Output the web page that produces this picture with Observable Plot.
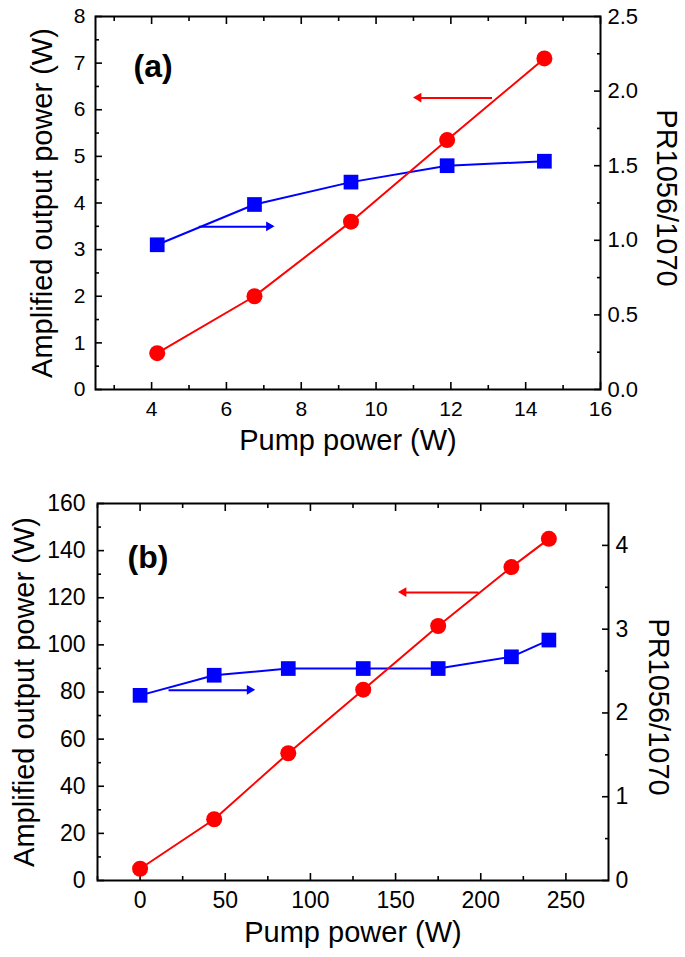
<!DOCTYPE html>
<html><head><meta charset="utf-8">
<script src="https://cdn.jsdelivr.net/npm/d3@7"></script>
<script src="https://cdn.jsdelivr.net/npm/@observablehq/plot@0.6"></script>
<style>body{margin:0;background:#fff} svg{display:block}</style>
</head><body><div id="chart"></div>
<script>
// ---------- Panel (a) data ----------
const pumpA   = [4.15, 6.75, 9.33, 11.9, 14.5];
const outputA = [0.78, 2.0, 3.6, 5.35, 7.1];          // Amplified output power (W), left axis
const ratioA  = [0.97, 1.24, 1.39, 1.50, 1.53];        // PR1056/1070, right axis
const xTicksA = [4, 6, 8, 10, 12, 14, 16];
const yTicksA = [0, 1, 2, 3, 4, 5, 6, 7, 8];
const rTicksA = [0, 0.5, 1.0, 1.5, 2.0, 2.5];
// arrows: [x1, x2, y] ; red y in left units, blue y in right units
const redArrowA  = [13.1, 11.15, 6.25];
const blueArrowA = [5.26, 7.15, 1.09];

// ---------- Panel (b) data ----------
const pumpB   = [0, 43.5, 87, 131, 175, 218, 240];
const outputB = [5, 26, 54, 81, 108, 133, 145];
const ratioB  = [2.21, 2.45, 2.53, 2.53, 2.53, 2.67, 2.87];
const xTicksB = [0, 50, 100, 150, 200, 250];
const yTicksB = [0, 20, 40, 60, 80, 100, 120, 140, 160];
const rTicksB = [0, 1, 2, 3, 4];
const redArrowB  = [198.7, 155, 122.2];
const blueArrowB = [16.7, 64.6, 2.27];

const RED = "#ff0000", BLUE = "#0000ff";
const FONT = '"Liberation Sans", Arial, Helvetica, sans-serif';

function panel(o) {
  const k = o.yDomain[1] / o.rDomain[1];
  const red = o.pump.map((x, i) => ({x, y: o.output[i]}));
  const blue = o.pump.map((x, i) => ({x, r: o.ratio[i]}));
  const arrows = [
    {x1: o.redArrow[0], x2: o.redArrow[1], y: o.redArrow[2], c: RED, rot: -90, dx: 5.5},
    {x1: o.blueArrow[0], x2: o.blueArrow[1], y: o.blueArrow[2] * k, c: BLUE, rot: 90, dx: -5.5}
  ];
  const blank = () => "";
  return Plot.plot({
    width: 685, height: o.height,
    marginTop: o.mt, marginBottom: o.mb, marginLeft: o.ml, marginRight: o.mr,
    style: {fontFamily: FONT, fontSize: o.fs + "px", color: "black", background: "white"},
    x: {domain: o.xDomain, axis: null},
    y: {domain: o.yDomain, axis: null},
    marks: [
      Plot.axisX(o.xTicks, {anchor: "bottom", tickSize: -7, tickPadding: 7 + o.xPad, strokeWidth: 1.6, label: null}),
      Plot.axisX(o.xMinor, {anchor: "bottom", tickSize: -4, tickFormat: blank, strokeWidth: 1.6, label: null}),
      Plot.axisX(o.xTicks, {anchor: "top", tickSize: -7, tickFormat: blank, strokeWidth: 1.6, label: null}),
      Plot.axisX(o.xMinor, {anchor: "top", tickSize: -4, tickFormat: blank, strokeWidth: 1.6, label: null}),
      Plot.axisY(o.yTicks, {anchor: "left", tickSize: -7, tickPadding: 7 + o.yPad, strokeWidth: 1.6, label: null}),
      Plot.axisY(o.yMinor, {anchor: "left", tickSize: -4, tickFormat: blank, strokeWidth: 1.6, label: null}),
      Plot.axisY(o.rTicks.map(v => v * k), {anchor: "right", tickSize: -7, tickPadding: 14, strokeWidth: 1.6,
        fontSize: o.rfs, tickFormat: d => d3.format(o.rFormat)(d / k), label: null}),
      Plot.axisY(o.rMinor.map(v => v * k), {anchor: "right", tickSize: -4, tickFormat: blank, strokeWidth: 1.6, label: null}),
      Plot.frame({stroke: "black", strokeWidth: 2}),
      Plot.line(blue, {x: "x", y: d => d.r * k, stroke: BLUE, strokeWidth: 2}),
      Plot.line(red, {x: "x", y: "y", stroke: RED, strokeWidth: 2}),
      Plot.dot(blue, {x: "x", y: d => d.r * k, symbol: "square", r: 8.3, fill: BLUE, stroke: "none"}),
      Plot.dot(red, {x: "x", y: "y", symbol: "circle", r: 8, fill: RED, stroke: "none"}),
      Plot.link(arrows, {x1: "x1", x2: "x2", y1: "y", y2: "y", stroke: "c", strokeWidth: 2}),
      Plot.dot(arrows, {x: "x2", y: "y", symbol: "triangle", r: 3.6, fill: "c", stroke: "none", rotate: "rot", dx: "dx"}),
      Plot.text([o.tag], {frameAnchor: "top-left", dx: o.tagDx, dy: o.tagDy, textAnchor: "start", lineAnchor: "middle",
        fontWeight: "bold", fontSize: 32, fill: "black"}),
      Plot.text(["Pump power (W)"], {frameAnchor: "bottom", dy: o.xtDy, textAnchor: "middle", lineAnchor: "middle", fontSize: 29, fill: "black"}),
      Plot.text(["Amplified output power (W)"], {frameAnchor: "left", dx: o.ytDx, rotate: -90, textAnchor: "middle", lineAnchor: "middle", fontSize: 29, fill: "black"}),
      Plot.text(["PR1056/1070"], {frameAnchor: "right", dx: o.rtDx, dy: o.rtDy, rotate: 90, textAnchor: "middle", lineAnchor: "middle", fontSize: 29, fill: "black"})
    ]
  });
}

const chart = document.getElementById("chart");
chart.append(panel({
  height: 478, mt: 16, mb: 89, ml: 95, mr: 85, fs: 21, rfs: 22, xPad: 12, yPad: 10,
  pump: pumpA, output: outputA, ratio: ratioA,
  xDomain: [2.5, 16], yDomain: [0, 8], rDomain: [0, 2.5],
  xTicks: xTicksA, xMinor: d3.range(3, 16, 2),
  yTicks: yTicksA, yMinor: d3.range(0.5, 8, 1),
  rTicks: rTicksA, rMinor: d3.range(0.25, 2.5, 0.5), rFormat: ".1f",
  redArrow: redArrowA, blueArrow: blueArrowA,
  tag: "(a)", tagDx: 38, tagDy: 50,
  xtDy: 51, ytDx: -53, rtDx: 66, rtDy: -5
}));
chart.append(panel({
  height: 479, mt: 25, mb: 77, ml: 97, mr: 77, fs: 23, rfs: 23, xPad: 11, yPad: 12,
  pump: pumpB, output: outputB, ratio: ratioB,
  xDomain: [-25, 275], yDomain: [0, 160], rDomain: [0, 4.5],
  xTicks: xTicksB, xMinor: d3.range(-25, 275, 50),
  yTicks: yTicksB, yMinor: d3.range(10, 160, 20),
  rTicks: rTicksB, rMinor: d3.range(0.5, 4.5, 1), rFormat: ".0f",
  redArrow: redArrowB, blueArrow: blueArrowB,
  tag: "(b)", tagDx: 30, tagDy: 54,
  xtDy: 52, ytDx: -73, rtDx: 50, rtDy: 15
}));
</script></body></html>
